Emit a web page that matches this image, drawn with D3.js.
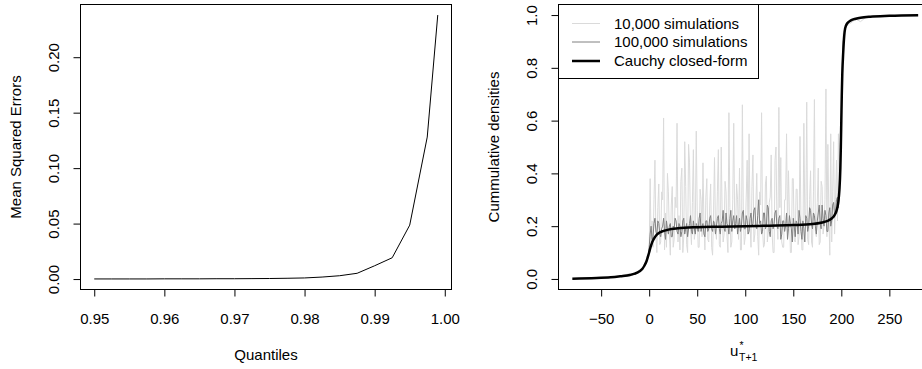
<!DOCTYPE html>
<html>
<head>
<meta charset="utf-8">
<script src="https://cdn.jsdelivr.net/npm/d3@7"></script>
<style>
  html, body { margin: 0; padding: 0; background: #fff; }
  svg { display: block; font-family: "Liberation Sans", Arial, sans-serif; }
</style>
</head>
<body>
<svg id="chart" width="922" height="369"></svg>
<script>
// ---------------- DATA ----------------
// Left panel: MSE by quantile
const quantiles = [0.95, 0.9525, 0.955, 0.9575, 0.96, 0.9625, 0.965, 0.9675, 0.97, 0.9725,
  0.975, 0.9775, 0.98, 0.9825, 0.985, 0.9875, 0.99, 0.9925, 0.995, 0.9975, 0.999];
const mse = [0.0001, 0.0001, 0.0001, 0.0001, 0.0002, 0.0002, 0.0002, 0.0003, 0.0003, 0.0004,
  0.0005, 0.0007, 0.0010, 0.0018, 0.0030, 0.0052, 0.0120, 0.0192, 0.0486, 0.1280, 0.2380];
const leftXTicks = [0.95, 0.96, 0.97, 0.98, 0.99, 1.00];
const leftYTicks = [0.00, 0.05, 0.10, 0.15, 0.20];

// Right panel: simulated cumulative densities
const simX = [-30, -20, -14, -10, -7, -5, -3, -2, -1,
  0, 1, 2, 3, 4, 5, 6, 7, 8, 9, 10, 11, 12, 13, 14, 15, 16, 17, 18, 19,
  20, 21, 22, 23, 24, 25, 26, 27, 28, 29, 30, 31, 32, 33, 34, 35, 36, 37, 38, 39,
  40, 41, 42, 43, 44, 45, 46, 47, 48, 49, 50, 51, 52, 53, 54, 55, 56, 57, 58, 59,
  60, 61, 62, 63, 64, 65, 66, 67, 68, 69, 70, 71, 72, 73, 74, 75, 76, 77, 78, 79,
  80, 81, 82, 83, 84, 85, 86, 87, 88, 89, 90, 91, 92, 93, 94, 95, 96, 97, 98, 99,
  100, 101, 102, 103, 104, 105, 106, 107, 108, 109, 110, 111, 112, 113, 114, 115, 116, 117, 118, 119,
  120, 121, 122, 123, 124, 125, 126, 127, 128, 129, 130, 131, 132, 133, 134, 135, 136, 137, 138, 139,
  140, 141, 142, 143, 144, 145, 146, 147, 148, 149, 150, 151, 152, 153, 154, 155, 156, 157, 158, 159,
  160, 161, 162, 163, 164, 165, 166, 167, 168, 169, 170, 171, 172, 173, 174, 175, 176, 177, 178, 179,
  180, 181, 182, 183, 184, 185, 186, 187, 188, 189, 190, 191, 192, 193, 194, 195, 196, 197, 198, 199,
  200, 201, 202, 204, 207, 210, 215, 220, 225, 230];
const sim10k = [0.012, 0.020, 0.018, 0.035, 0.040, 0.055, 0.060, 0.085, 0.090,
  0.10, 0.38, 0.14, 0.22, 0.12, 0.30, 0.45, 0.16, 0.10, 0.27, 0.36, 0.13, 0.14, 0.33, 0.30, 0.61, 0.11, 0.25, 0.12, 0.40,
  0.33, 0.17, 0.09, 0.28, 0.35, 0.12, 0.15, 0.31, 0.27, 0.59, 0.14, 0.24, 0.11, 0.37, 0.42, 0.10, 0.16, 0.52, 0.35, 0.13,
  0.10, 0.51, 0.44, 0.20, 0.13, 0.29, 0.49, 0.15, 0.18, 0.56, 0.26, 0.12, 0.12, 0.34, 0.30, 0.16, 0.44, 0.21, 0.11, 0.31,
  0.38, 0.15, 0.14, 0.28, 0.36, 0.12, 0.09, 0.25, 0.46, 0.19, 0.15, 0.33, 0.49, 0.13, 0.12, 0.50, 0.24, 0.14, 0.17, 0.37,
  0.33, 0.16, 0.10, 0.63, 0.27, 0.12, 0.14, 0.30, 0.59, 0.21, 0.19, 0.36, 0.30, 0.15, 0.42, 0.11, 0.11, 0.66, 0.24, 0.13,
  0.16, 0.31, 0.45, 0.17, 0.55, 0.20, 0.12, 0.35, 0.47, 0.14, 0.17, 0.28, 0.40, 0.16, 0.09, 0.33, 0.28, 0.63, 0.19, 0.12,
  0.13, 0.36, 0.39, 0.14, 0.18, 0.29, 0.31, 0.47, 0.17, 0.10, 0.10, 0.45, 0.50, 0.21, 0.15, 0.65, 0.27, 0.46, 0.14, 0.12,
  0.12, 0.30, 0.30, 0.55, 0.18, 0.41, 0.25, 0.10, 0.10, 0.38, 0.38, 0.15, 0.14, 0.34, 0.34, 0.13, 0.16, 0.54, 0.22, 0.11,
  0.11, 0.59, 0.24, 0.20, 0.67, 0.15, 0.13, 0.30, 0.41, 0.14, 0.12, 0.33, 0.68, 0.18, 0.16, 0.29, 0.42, 0.13, 0.14, 0.37,
  0.35, 0.17, 0.20, 0.30, 0.72, 0.16, 0.51, 0.25, 0.09, 0.55, 0.14, 0.33, 0.52, 0.17, 0.30, 0.45, 0.22, 0.55, 0.40, 0.50,
  0.62, 0.80, 0.93, 0.95, 0.965, 0.970, 0.985, 0.975, 0.990, 0.990];
const sim100k = [0.009, 0.013, 0.019, 0.030, 0.040, 0.050, 0.066, 0.076, 0.088,
  0.12, 0.17, 0.20, 0.15, 0.16, 0.21, 0.23, 0.18, 0.17, 0.22, 0.21, 0.17, 0.16, 0.19, 0.20, 0.23, 0.18, 0.15, 0.22, 0.19,
  0.17, 0.20, 0.21, 0.16, 0.16, 0.20, 0.19, 0.23, 0.22, 0.18, 0.17, 0.21, 0.20, 0.16, 0.18, 0.22, 0.23, 0.17, 0.19, 0.21,
  0.16, 0.19, 0.21, 0.24, 0.18, 0.17, 0.22, 0.19, 0.17, 0.21, 0.20, 0.18, 0.23, 0.25, 0.18, 0.20, 0.21, 0.17, 0.16, 0.22,
  0.22, 0.18, 0.19, 0.23, 0.24, 0.19, 0.18, 0.22, 0.21, 0.17, 0.20, 0.23, 0.24, 0.19, 0.17, 0.21, 0.22, 0.26, 0.19, 0.18,
  0.25, 0.21, 0.20, 0.17, 0.23, 0.26, 0.18, 0.22, 0.24, 0.19, 0.21, 0.24, 0.17, 0.20, 0.23, 0.18, 0.20, 0.25, 0.26, 0.19,
  0.19, 0.24, 0.22, 0.17, 0.18, 0.23, 0.25, 0.20, 0.21, 0.26, 0.27, 0.20, 0.19, 0.24, 0.30, 0.21, 0.22, 0.17, 0.18, 0.25,
  0.25, 0.19, 0.20, 0.28, 0.27, 0.18, 0.16, 0.22, 0.23, 0.19, 0.21, 0.25, 0.26, 0.20, 0.19, 0.23, 0.24, 0.15, 0.17, 0.22,
  0.22, 0.18, 0.20, 0.25, 0.15, 0.19, 0.24, 0.21, 0.19, 0.14, 0.23, 0.20, 0.16, 0.22, 0.21, 0.17, 0.26, 0.23, 0.18, 0.15,
  0.22, 0.19, 0.14, 0.24, 0.23, 0.18, 0.20, 0.27, 0.26, 0.21, 0.19, 0.25, 0.24, 0.20, 0.17, 0.22, 0.25, 0.28, 0.21, 0.19,
  0.28, 0.23, 0.20, 0.26, 0.24, 0.18, 0.18, 0.25, 0.27, 0.20, 0.22, 0.28, 0.29, 0.24, 0.25, 0.30, 0.31, 0.27, 0.35, 0.40,
  0.60, 0.78, 0.90, 0.95, 0.970, 0.980, 0.985, 0.990, 0.990, 0.994];
// Cauchy closed-form curve
const cauchyX = [-80, -60, -40, -30, -20, -15, -10, -7, -5, -3, -2, -1, 0, 1, 2, 3, 4, 5, 7, 10,
  15, 20, 30, 50, 75, 100, 125, 150, 170, 180, 185, 190, 193, 195, 196, 197, 198, 199, 199.5, 200,
  200.5, 201, 202, 203, 204, 206, 210, 215, 220, 230, 250, 280];
const cauchyY = [0.001, 0.003, 0.006, 0.010, 0.015, 0.020, 0.029, 0.039, 0.050, 0.065, 0.076, 0.088, 0.101, 0.115, 0.127, 0.138, 0.146, 0.153, 0.164, 0.174,
  0.182, 0.187, 0.192, 0.196, 0.198, 0.200, 0.202, 0.204, 0.208, 0.214, 0.219, 0.229, 0.242, 0.258, 0.273, 0.295, 0.336, 0.420, 0.500, 0.600,
  0.700, 0.775, 0.860, 0.920, 0.950, 0.968, 0.980, 0.986, 0.990, 0.994, 0.997, 0.999];
const rightXTicks = [-50, 0, 50, 100, 150, 200, 250];
const rightYTicks = [0.0, 0.2, 0.4, 0.6, 0.8, 1.0];

const legendLabels = ["10,000 simulations", "100,000 simulations", "Cauchy closed-form"];
const legendColors = ["#dadada", "#808080", "#000000"];
const legendWidths = [1, 1, 2.5];

// ---------------- DRAW ----------------
const svg = d3.select("#chart");
svg.append("rect").attr("width", 922).attr("height", 369).attr("fill", "#fff");

function ext(lo, hi) { const d = (hi - lo) * 0.04; return [lo - d, hi + d]; }

function panel(opts) {
  const { x0, x1, y0, y1, xDom, yDom, xTicks, yTicks, xFmt, yFmt } = opts;
  const x = d3.scaleLinear().domain(xDom).range([x0, x1]);
  const y = d3.scaleLinear().domain(yDom).range([y1, y0]);
  const g = svg.append("g");

  const xa = g.append("g").attr("transform", `translate(0,${y1})`)
    .call(d3.axisBottom(x).tickValues(xTicks).tickSize(7).tickPadding(17).tickFormat(xFmt));
  const ya = g.append("g").attr("transform", `translate(${x0},0)`)
    .call(d3.axisLeft(y).tickValues(yTicks).tickSize(7).tickFormat(yFmt));
  [xa, ya].forEach(a => {
    a.select(".domain").remove();
    a.selectAll("line").attr("stroke", "#000");
    a.selectAll("text").attr("fill", "#000").attr("font-size", 15)
      .attr("font-family", '"Liberation Sans", Arial, sans-serif');
  });
  ya.selectAll("text")
    .attr("x", null).attr("dy", "0.35em")
    .attr("transform", "translate(-26.5,0) rotate(-90)")
    .attr("text-anchor", "middle");

  g.append("line").attr("x1", x(xTicks[0])).attr("x2", x(xTicks[xTicks.length - 1]))
    .attr("y1", y1).attr("y2", y1).attr("stroke", "#000");
  g.append("line").attr("y1", y(yTicks[0])).attr("y2", y(yTicks[yTicks.length - 1]))
    .attr("x1", x0).attr("x2", x0).attr("stroke", "#000");

  const clipId = "clip" + Math.round(x0);
  svg.append("clipPath").attr("id", clipId).append("rect")
    .attr("x", x0).attr("y", y0).attr("width", x1 - x0).attr("height", y1 - y0);
  const plot = g.append("g").attr("clip-path", `url(#${clipId})`);

  return { x, y, g, plot, box: () => g.append("rect").attr("x", x0).attr("y", y0)
    .attr("width", x1 - x0).attr("height", y1 - y0).attr("fill", "none").attr("stroke", "#000") };
}

// Left panel
const L = panel({
  x0: 80.5, x1: 451.5, y0: 4.5, y1: 289.5,
  xDom: ext(d3.min(quantiles), d3.max(quantiles)),
  yDom: ext(d3.min(mse), d3.max(mse)),
  xTicks: leftXTicks, yTicks: leftYTicks,
  xFmt: d3.format(".2f"), yFmt: d3.format(".2f")
});
L.plot.append("path")
  .datum(quantiles.map((q, i) => [q, mse[i]]))
  .attr("fill", "none").attr("stroke", "#000").attr("stroke-width", 1)
  .attr("d", d3.line().x(d => L.x(d[0])).y(d => L.y(d[1])));
L.box();
L.g.append("text").attr("x", (80.5 + 451.5) / 2).attr("y", 359.5)
  .attr("text-anchor", "middle").attr("font-size", 15).text("Quantiles");
L.g.append("text").attr("transform", "translate(15.5,147) rotate(-90)")
  .attr("dy", "0.35em").attr("text-anchor", "middle").attr("font-size", 15)
  .text("Mean Squared Errors");

// Right panel
const R = panel({
  x0: 558.5, x1: 932, y0: 4.5, y1: 289.5,
  xDom: ext(-80, 280),
  yDom: ext(0, 1),
  xTicks: rightXTicks, yTicks: rightYTicks,
  xFmt: d3.format("d"), yFmt: d3.format(".1f")
});
const rline = d3.line().x(d => R.x(d[0])).y(d => R.y(d[1]));
R.plot.append("path").datum(simX.map((v, i) => [v, sim10k[i]]))
  .attr("fill", "none").attr("stroke", legendColors[0]).attr("stroke-width", 1).attr("d", rline);
R.plot.append("path").datum(simX.map((v, i) => [v, sim100k[i]]))
  .attr("fill", "none").attr("stroke", legendColors[1]).attr("stroke-width", 1).attr("d", rline);
R.plot.append("path").datum(cauchyX.map((v, i) => [v, cauchyY[i]]))
  .attr("fill", "none").attr("stroke", "#000").attr("stroke-width", 2.5)
  .attr("stroke-linejoin", "round").attr("d", rline.curve(d3.curveMonotoneX));
R.box();

// legend
const lg = R.g.append("g");
lg.append("rect").attr("x", 558.5).attr("y", 4.5).attr("width", 200).attr("height", 74)
  .attr("fill", "#fff").attr("stroke", "#000");
const rowsY = [23.5, 42, 61];
legendLabels.forEach((lab, i) => {
  lg.append("line").attr("x1", 572).attr("x2", 600).attr("y1", rowsY[i]).attr("y2", rowsY[i])
    .attr("stroke", legendColors[i]).attr("stroke-width", legendWidths[i]);
  lg.append("text").attr("x", 614).attr("y", rowsY[i]).attr("dy", "0.35em")
    .attr("font-size", 15).text(lab);
});

// x title: u*_{T+1}
const xt = R.g.append("g");
xt.append("text").attr("x", 730).attr("y", 355.5).attr("font-size", 15).text("u");
xt.append("text").attr("x", 739).attr("y", 361).attr("font-size", 10.5).text("T+1");
xt.append("text").attr("x", 739.5).attr("y", 348.5).attr("font-size", 10.5).text("*");
R.g.append("text").attr("transform", "translate(493.5,147) rotate(-90)")
  .attr("dy", "0.35em").attr("text-anchor", "middle").attr("font-size", 15)
  .text("Cummulative densities");
</script>
</body>
</html>
